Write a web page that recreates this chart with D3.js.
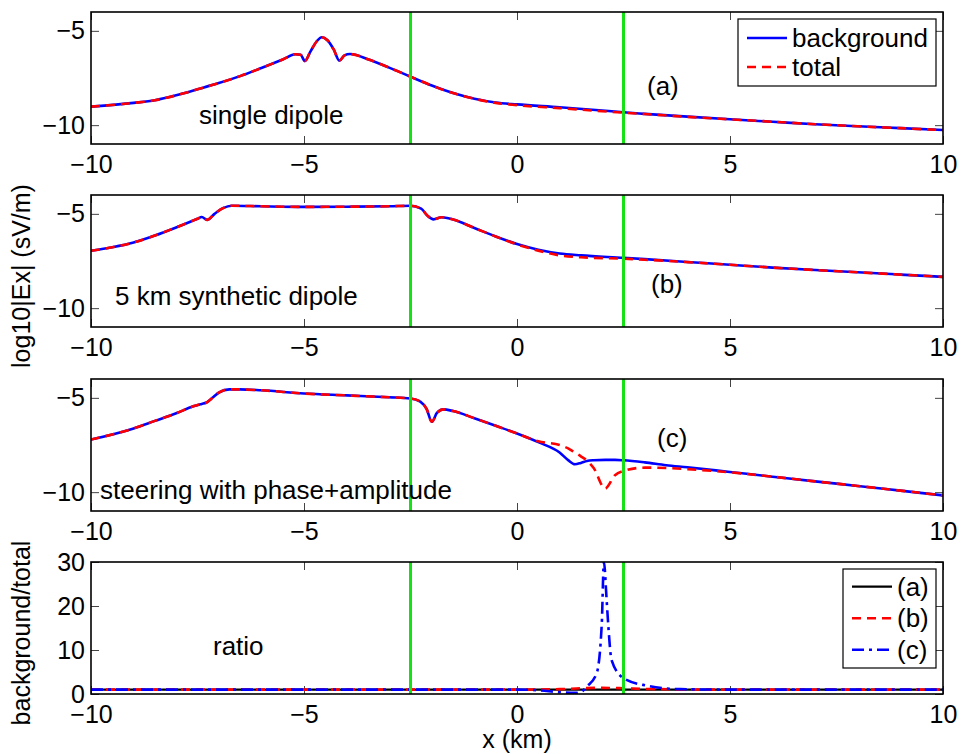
<!DOCTYPE html>
<html>
<head>
<meta charset="utf-8">
<script src="https://cdn.jsdelivr.net/npm/d3@7"></script>
<style>
  body { margin: 0; background: #fff; }
  svg text { font-family: "Liberation Sans", Arial, Helvetica, sans-serif; fill: #000; }
</style>
</head>
<body>
<svg id="chart" width="961" height="754"></svg>
<script>
// ---- data ----
const xTicks = [-10, -5, 0, 5, 10];
const fieldTicks = [-10, -5];
const ratioTicks = [0, 10, 20, 30];
const markers = [-2.5, 2.5];

// (a) single dipole
const xA = [-10, -9, -8.5, -8, -7.5, -7, -6.5, -6, -5.5, -5.2, -5.08, -4.98, -4.85, -4.7, -4.58, -4.45, -4.3, -4.17, -4.05, -3.92,
  -3.5, -3, -2.5, -2, -1.5, -1, -0.5, 0, 1, 2, 2.5, 3, 4, 5, 6, 7, 8, 9, 10];
const bgA = [-9.02, -8.82, -8.68, -8.42, -8.1, -7.77, -7.4, -6.97, -6.52, -6.24, -6.27, -6.6, -6.1, -5.55, -5.34, -5.5, -6.0, -6.58, -6.3, -6.23,
  -6.5, -6.95, -7.43, -7.9, -8.3, -8.6, -8.8, -8.9, -9.05, -9.22, -9.32, -9.4, -9.55, -9.69, -9.82, -9.95, -10.06, -10.16, -10.26];
const totA = [-9.02, -8.82, -8.68, -8.42, -8.1, -7.77, -7.4, -6.97, -6.52, -6.24, -6.27, -6.6, -6.1, -5.55, -5.34, -5.5, -6.0, -6.58, -6.3, -6.23,
  -6.5, -6.95, -7.43, -7.9, -8.3, -8.6, -8.82, -8.94, -9.1, -9.26, -9.34, -9.41, -9.56, -9.69, -9.82, -9.95, -10.06, -10.16, -10.26];

// (b) 5 km synthetic dipole
const xB = [-10, -9.5, -9, -8.5, -8, -7.5, -7.4, -7.27, -7.1, -6.9, -6.7, -6, -5, -4, -3, -2.5, -2.25, -2.1, -1.96, -1.77,
  -1.5, -1, -0.5, 0, 0.5, 1, 1.5, 2.5, 3, 4, 5, 6, 7, 8, 9, 10];
const bgB = [-6.96, -6.77, -6.52, -6.15, -5.72, -5.26, -5.17, -5.32, -5.0, -4.7, -4.57, -4.6, -4.63, -4.62, -4.6, -4.57, -4.72, -5.1, -5.29, -5.18,
  -5.3, -5.75, -6.2, -6.6, -6.9, -7.1, -7.2, -7.33, -7.4, -7.55, -7.7, -7.85, -7.98, -8.1, -8.22, -8.34];
const totB = [-6.96, -6.77, -6.52, -6.15, -5.72, -5.26, -5.17, -5.32, -5.0, -4.7, -4.57, -4.6, -4.63, -4.62, -4.6, -4.57, -4.72, -5.1, -5.29, -5.18,
  -5.3, -5.75, -6.2, -6.62, -6.95, -7.2, -7.3, -7.38, -7.43, -7.56, -7.7, -7.85, -7.98, -8.1, -8.22, -8.34];

// (c) steering with phase+amplitude
const xC = [-10, -9, -8.5, -8, -7.6, -7.4, -7.3, -7.15, -7, -6.75, -6.5, -6, -5, -4, -3, -2.5, -2.27, -2.12, -2.0, -1.88,
  -1.73, -1.5, -1, -0.5, 0, 0.5, 1, 1.2, 1.36, 1.5, 1.64, 1.8, 2.07, 2.3, 2.5, 3, 3.5, 4, 5, 6, 7, 8, 9, 10];
const bgC = [-7.21, -6.62, -6.22, -5.82, -5.45, -5.32, -5.26, -5.0, -4.72, -4.55, -4.55, -4.6, -4.77, -4.87, -4.97, -5.03, -5.2, -5.6, -6.27, -5.8,
  -5.61, -5.7, -6.08, -6.48, -6.89, -7.35, -7.9, -8.3, -8.52, -8.45, -8.35, -8.31, -8.29, -8.29, -8.31, -8.42, -8.57, -8.68, -8.93, -9.18, -9.43, -9.67, -9.92, -10.17];
const totC = [-7.21, -6.62, -6.22, -5.82, -5.45, -5.32, -5.26, -5.0, -4.72, -4.55, -4.55, -4.6, -4.77, -4.87, -4.97, -5.03, -5.2, -5.6, -6.27, -5.8,
  -5.61, -5.7, -6.08, -6.48, -6.89, -7.3, -7.5, -7.68, -7.9, -8.1, -8.32, -8.72, -9.81, -9.1, -8.88, -8.7, -8.72, -8.78, -8.95, -9.18, -9.43, -9.67, -9.92, -10.17];

// ratio background/total
const xRa = [-10, -5, 0, 5, 10];
const ratioA = [1, 1, 1, 1, 1];
const xRb = [-10, -5, 0, 1, 1.5, 2, 2.5, 3, 5, 10];
const ratioB = [1, 1, 1, 1.1, 1.3, 1.4, 1.3, 1.15, 1, 1];
const xRc = [-10, -5, 0, 0.5, 1, 1.36, 1.5, 1.64, 1.87, 1.99, 2.04, 2.1, 2.14, 2.22, 2.5, 3.05, 3.83, 5, 10];
const ratioC = [1, 1, 1, 0.85, 0.4, 0.25, 0.45, 1.7, 4.7, 16, 30, 22, 16, 7.7, 3.6, 1.9, 1.1, 1, 1];

// ---- layout ----
const svg = d3.select("#chart");
const left = 91, right = 943, panelH = 132;
const tops = [12, 195, 379, 562];
const green = "#16e016";
const tickFont = 25, textFont = 26;

const x = d3.scaleLinear().domain([-10, 10]).range([left, right]);

function makePanel(i, yDomain, yTicks) {
    const g = svg.append("g").attr("transform", `translate(0,${tops[i]})`);
    const y = d3.scaleLinear().domain(yDomain).range([panelH, 0]);
    const fmt = d3.format("d");

    g.append("clipPath").attr("id", "clip" + i)
        .append("rect").attr("x", left).attr("y", 0).attr("width", right - left).attr("height", panelH);

    const axes = [
        g.append("g").attr("transform", `translate(0,${panelH})`)
            .call(d3.axisBottom(x).tickValues(xTicks).tickFormat(fmt).tickSize(-8).tickPadding(11)),
        g.append("g").call(d3.axisTop(x).tickValues(xTicks).tickSize(-8).tickFormat("")),
        g.append("g").attr("transform", `translate(${left},0)`)
            .call(d3.axisLeft(y).tickValues(yTicks).tickFormat(fmt).tickSize(-8).tickPadding(6)),
        g.append("g").attr("transform", `translate(${right},0)`)
            .call(d3.axisRight(y).tickValues(yTicks).tickSize(-8).tickFormat(""))
    ];
    axes.forEach(a => {
        a.attr("font-size", tickFont).attr("font-family", null);
        a.select(".domain").remove();
        a.selectAll(".tick line").attr("stroke", "#444").attr("stroke-width", 1);
    });

    const plot = g.append("g").attr("clip-path", `url(#clip${i})`);
    return { g, y, plot };
}

function addLine(p, xs, ys, color, width, dash) {
    const line = d3.line()
        .x(d => x(d[0]))
        .y(d => p.y(d[1]))
        .curve(d3.curveMonotoneX);
    p.plot.append("path")
        .datum(d3.zip(xs, ys))
        .attr("d", line)
        .attr("fill", "none")
        .attr("stroke", color)
        .attr("stroke-width", width)
        .attr("stroke-linejoin", "round")
        .attr("stroke-dasharray", dash);
}

function finish(p) {
    p.plot.selectAll(".marker")
        .data(markers)
        .enter().append("line")
        .attr("class", "marker")
        .attr("x1", d => x(d)).attr("x2", d => x(d))
        .attr("y1", 0).attr("y2", panelH)
        .attr("stroke", green)
        .attr("stroke-width", 3);
    p.g.append("rect")
        .attr("x", left).attr("y", 0)
        .attr("width", right - left).attr("height", panelH)
        .attr("fill", "none").attr("stroke", "#000").attr("stroke-width", 1.6);
}

function label(txt, px, py) {
    svg.append("text").attr("x", px).attr("y", py).attr("font-size", textFont).text(txt);
}

function legend(p, box, rows) {
    const lg = p.g.append("g");
    lg.append("rect")
        .attr("x", box[0]).attr("y", box[1]).attr("width", box[2]).attr("height", box[3])
        .attr("fill", "#fff").attr("stroke", "#000").attr("stroke-width", 1.2);
    rows.forEach((r, k) => {
        const ry = box[4] + k * box[5];
        lg.append("line")
            .attr("x1", box[0] + 9).attr("x2", box[0] + 49)
            .attr("y1", ry).attr("y2", ry)
            .attr("stroke", r.color).attr("stroke-width", r.width)
            .attr("stroke-dasharray", r.dash);
        lg.append("text")
            .attr("x", box[0] + 54).attr("y", ry).attr("dy", "0.35em")
            .attr("font-size", textFont).text(r.name);
    });
}

// panels (a)-(c)
const fieldSets = [[xA, bgA, totA], [xB, bgB, totB], [xC, bgC, totC]];
const fieldPanels = fieldSets.map((s, i) => {
    const p = makePanel(i, [-11, -4], fieldTicks);
    addLine(p, s[0], s[1], "#0000ff", 2.6, null);
    addLine(p, s[0], s[2], "#ff0000", 2.6, "9,6");
    finish(p);
    return p;
});

legend(fieldPanels[0], [738, 7, 198, 67, 26, 29], [
    { name: "background", color: "#0000ff", width: 2.6, dash: null },
    { name: "total", color: "#ff0000", width: 2.6, dash: "9,6" }
]);

// ratio panel
const pr = makePanel(3, [0, 30], ratioTicks);
addLine(pr, xRa, ratioA, "#000000", 2.2, null);
addLine(pr, xRb, ratioB, "#ff0000", 2.6, "9,6");
addLine(pr, xRc, ratioC, "#0000ff", 2.6, "12,5,3,5");
finish(pr);

legend(pr, [843, 7, 93, 99, 24.7, 31.5], [
    { name: "(a)", color: "#000000", width: 2.2, dash: null },
    { name: "(b)", color: "#ff0000", width: 2.6, dash: "9,6" },
    { name: "(c)", color: "#0000ff", width: 2.6, dash: "12,5,3,5" }
]);

// annotations
label("single dipole", 199, 124);
label("(a)", 647, 95);
label("5 km synthetic dipole", 115, 305);
label("(b)", 651, 293);
label("steering with phase+amplitude", 100, 499);
label("(c)", 657, 447);
label("ratio", 213, 655);

// axis titles
svg.append("text")
    .attr("transform", "translate(30,276) rotate(-90)")
    .attr("text-anchor", "middle").attr("font-size", tickFont)
    .text("log10|Ex| (sV/m)");
svg.append("text")
    .attr("transform", "translate(30,633) rotate(-90)")
    .attr("text-anchor", "middle").attr("font-size", tickFont)
    .text("background/total");
svg.append("text")
    .attr("x", 517).attr("y", 748)
    .attr("text-anchor", "middle").attr("font-size", tickFont)
    .text("x (km)");
</script>
</body>
</html>
